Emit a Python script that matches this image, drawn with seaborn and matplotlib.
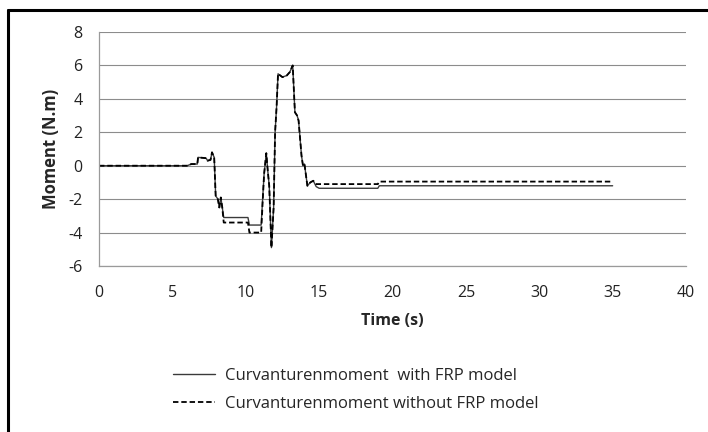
import matplotlib
matplotlib.use("Agg")
import matplotlib.pyplot as plt
import seaborn as sns
import pandas as pd
from matplotlib.lines import Line2D

time_s = [0, 6.0, 6.3, 6.7, 6.75, 7.3, 7.4, 7.6, 7.7, 7.85, 7.95, 8.1, 8.2, 8.3, 8.4, 8.5,
          10.15, 10.25, 11.05, 11.15, 11.25, 11.4, 11.5, 11.6, 11.75, 11.9, 12.0, 12.1, 12.2,
          12.5, 12.8, 13.0, 13.2, 13.35, 13.5, 13.6, 13.8, 13.9, 14.0, 14.2, 14.4, 14.6, 14.8,
          15.0, 19.0, 19.1, 35.0]
with_frp = [0, 0, 0.1, 0.1, 0.5, 0.45, 0.3, 0.35, 0.8, 0.5, -1.8, -2.0, -2.5, -1.9, -2.5, -3.1,
            -3.1, -3.55, -3.55, -2.0, -0.5, 0.75, -0.3, -1.2, -4.9, -2.5, 2.0, 3.5, 5.5,
            5.3, 5.4, 5.6, 6.0, 3.2, 3.0, 2.7, 0.6, 0.0, 0.1, -1.2, -1.0, -0.9, -1.25,
            -1.35, -1.35, -1.2, -1.2]
without_frp = [0, 0, 0.1, 0.1, 0.5, 0.45, 0.3, 0.35, 0.8, 0.5, -1.8, -2.0, -2.5, -1.9, -2.5, -3.4,
               -3.4, -4.0, -4.0, -2.2, -0.5, 0.75, -0.3, -1.2, -4.9, -2.5, 2.0, 3.5, 5.5,
               5.3, 5.4, 5.6, 6.0, 3.2, 3.0, 2.7, 0.6, 0.0, 0.1, -1.2, -1.0, -0.9, -1.1,
               -1.1, -1.1, -0.95, -0.95]
series_names = ["Curvanturenmoment  with FRP model", "Curvanturenmoment without FRP model"]
x_ticks = [0, 5, 10, 15, 20, 25, 30, 35, 40]
y_ticks = [-6, -4, -2, 0, 2, 4, 6, 8]

sns.set_style("white")
plt.rcParams['font.family'] = ['Open Sans', 'DejaVu Sans']
plt.rcParams['axes.unicode_minus'] = False

df = pd.concat([
    pd.DataFrame({"t": time_s, "m": with_frp, "s": series_names[0]}),
    pd.DataFrame({"t": time_s, "m": without_frp, "s": series_names[1]}),
])

fig = plt.figure(figsize=(7.08, 4.32), dpi=100)
ax = fig.add_axes([99/708, 1-266/432, (686-99)/708, (266-32)/432])

sns.lineplot(data=df[df.s == series_names[0]], x="t", y="m", ax=ax, color="#3a3a3a",
             lw=1.0, estimator=None, sort=False, legend=False)
sns.lineplot(data=df[df.s == series_names[1]], x="t", y="m", ax=ax, color="black",
             lw=1.3, estimator=None, sort=False, legend=False, dashes=False)
ax.lines[1].set_dashes((3, 1.6))

ax.set_xlim(0, 40)
ax.set_ylim(-6, 8)
ax.set_xticks(x_ticks)
ax.set_yticks(y_ticks)
ax.tick_params(axis='both', labelsize=11.5, length=0, colors="#222222")
ax.tick_params(axis='x', pad=14)
ax.tick_params(axis='y', pad=12)
ax.yaxis.grid(True, color="#8c8c8c", lw=0.8)
ax.xaxis.grid(False)
for side in ["top", "right"]:
    ax.spines[side].set_visible(False)
for side in ["left", "bottom"]:
    ax.spines[side].set_color("#9a9a9a")
    ax.spines[side].set_linewidth(0.9)
ax.set_xlabel("Time (s)", fontsize=11.5, fontweight="bold", labelpad=8)
ax.set_ylabel("Moment (N.m)", fontsize=12, fontweight="bold", labelpad=6)

handles = [Line2D([], [], color="#3a3a3a", lw=1.0),
           Line2D([], [], color="black", lw=1.3, dashes=(3, 1.6))]
leg = fig.legend(handles, series_names, loc="center", bbox_to_anchor=(356/708, 1-390/432),
                 frameon=False, fontsize=12, handlelength=2.5, handletextpad=0.6,
                 labelspacing=0.75)

fig.add_artist(Line2D([8/708, 1], [1-10/432, 1-10/432], color="black", lw=2.2,
                      transform=fig.transFigure))
fig.add_artist(Line2D([8/708, 8/708], [0, 1-10/432], color="black", lw=2.2,
                      transform=fig.transFigure))

fig.savefig("out.png", dpi=100)
